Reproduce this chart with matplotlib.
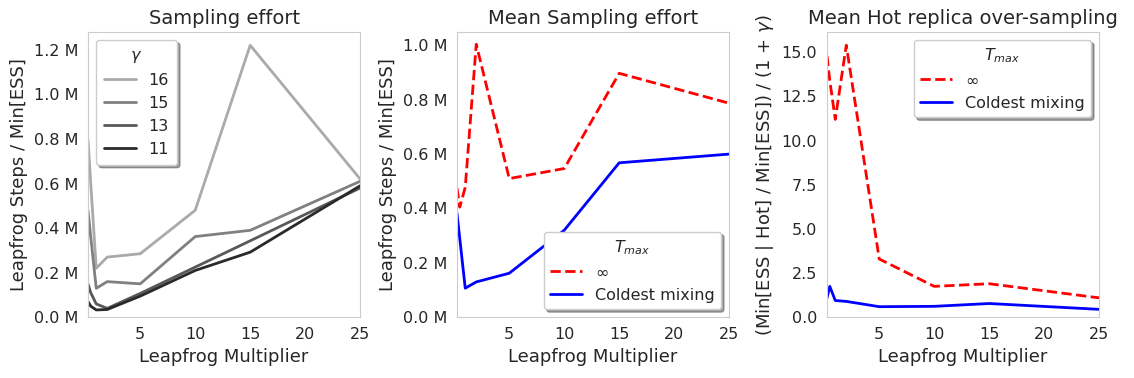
import matplotlib
matplotlib.use("Agg")
import matplotlib.pyplot as plt
from matplotlib.ticker import FuncFormatter
import seaborn as sns

sns.set_style("whitegrid")
plt.rcParams['font.family'] = ['DejaVu Sans']

multipliers = [0.25, 0.5, 1, 2, 5, 10, 15, 25]

gammas = ["16", "15", "13", "11"]
effort_g16 = [800000, 600000, 220000, 270000, 285000, 480000, 1220000, 620000]
effort_g15 = [480000, 360000, 130000, 160000, 150000, 362000, 390000, 610000]
effort_g13 = [150000, 110000, 60000, 40000, 107000, 225000, 343000, 580000]
effort_g11 = [70000, 50000, 33000, 35000, 95000, 210000, 292000, 590000]
gamma_colors = ["#aaaaaa", "#808080", "#585858", "#2a2a2a"]

mean_effort_inf = [475000, 405000, 478000, 1004000, 510000, 547000, 897000, 787000]
mean_effort_cold = [382000, 290000, 107000, 130000, 162000, 320000, 568000, 600000]

hot_over_inf = [14.8, 13.4, 11.2, 15.4, 3.3, 1.75, 1.9, 1.1]
hot_over_cold = [1.1, 1.75, 0.95, 0.9, 0.6, 0.62, 0.78, 0.45]

fig = plt.figure(figsize=(11.34, 3.78), dpi=100)
ax1 = fig.add_axes([0.0776, 0.1606, 0.2400, 0.7547])
ax2 = fig.add_axes([0.4030, 0.1606, 0.2400, 0.7547])
ax3 = fig.add_axes([0.7293, 0.1606, 0.2400, 0.7547])

mfmt = FuncFormatter(lambda v, p: f"{v/1e6:.1f} M")
TICK = 11.5
LAB = 13
TIT = 14

for g, ys, c in zip(gammas, [effort_g16, effort_g15, effort_g13, effort_g11], gamma_colors):
    ax1.plot(multipliers, ys, color=c, lw=2, label=g)
ax1.set_title("Sampling effort", fontsize=TIT)
ax1.set_ylabel("Leapfrog Steps / Min[ESS]", fontsize=LAB)
ax1.yaxis.set_major_formatter(mfmt)
ax1.legend(title=r"$\gamma$", loc="upper left", shadow=True, fontsize=11.5,
           title_fontsize=11.5, handlelength=2.0, borderpad=0.5, labelspacing=0.5)

ax2.plot(multipliers, mean_effort_inf, color="red", lw=2, ls="--", label=r"$\infty$")
ax2.plot(multipliers, mean_effort_cold, color="blue", lw=2, label="Coldest mixing")
ax2.set_title("Mean Sampling effort", fontsize=TIT)
ax2.set_ylabel("Leapfrog Steps / Min[ESS]", fontsize=LAB)
ax2.yaxis.set_major_formatter(mfmt)
ax2.legend(title=r"$T_{max}$", loc="lower right", shadow=True, fontsize=11.5,
           title_fontsize=11.5)

ax3.plot(multipliers, hot_over_inf, color="red", lw=2, ls="--", label=r"$\infty$")
ax3.plot(multipliers, hot_over_cold, color="blue", lw=2, label="Coldest mixing")
ax3.set_title("Mean Hot replica over-sampling", fontsize=TIT)
ax3.set_ylabel(r"(Min[ESS | Hot] / Min[ESS]) / (1 + $\gamma$)", fontsize=LAB)
ax3.legend(title=r"$T_{max}$", loc="upper right", shadow=True, fontsize=11.5,
           title_fontsize=11.5)

for ax in (ax1, ax2, ax3):
    ax.grid(False)
    ax.set_xlim(multipliers[0], multipliers[-1])
    ax.set_ylim(bottom=0)
    ax.set_xlabel("Leapfrog Multiplier", fontsize=LAB)
    ax.tick_params(labelsize=TICK)
    for s in ax.spines.values():
        s.set_color("#cccccc")

fig.savefig("out.png", dpi=100)
